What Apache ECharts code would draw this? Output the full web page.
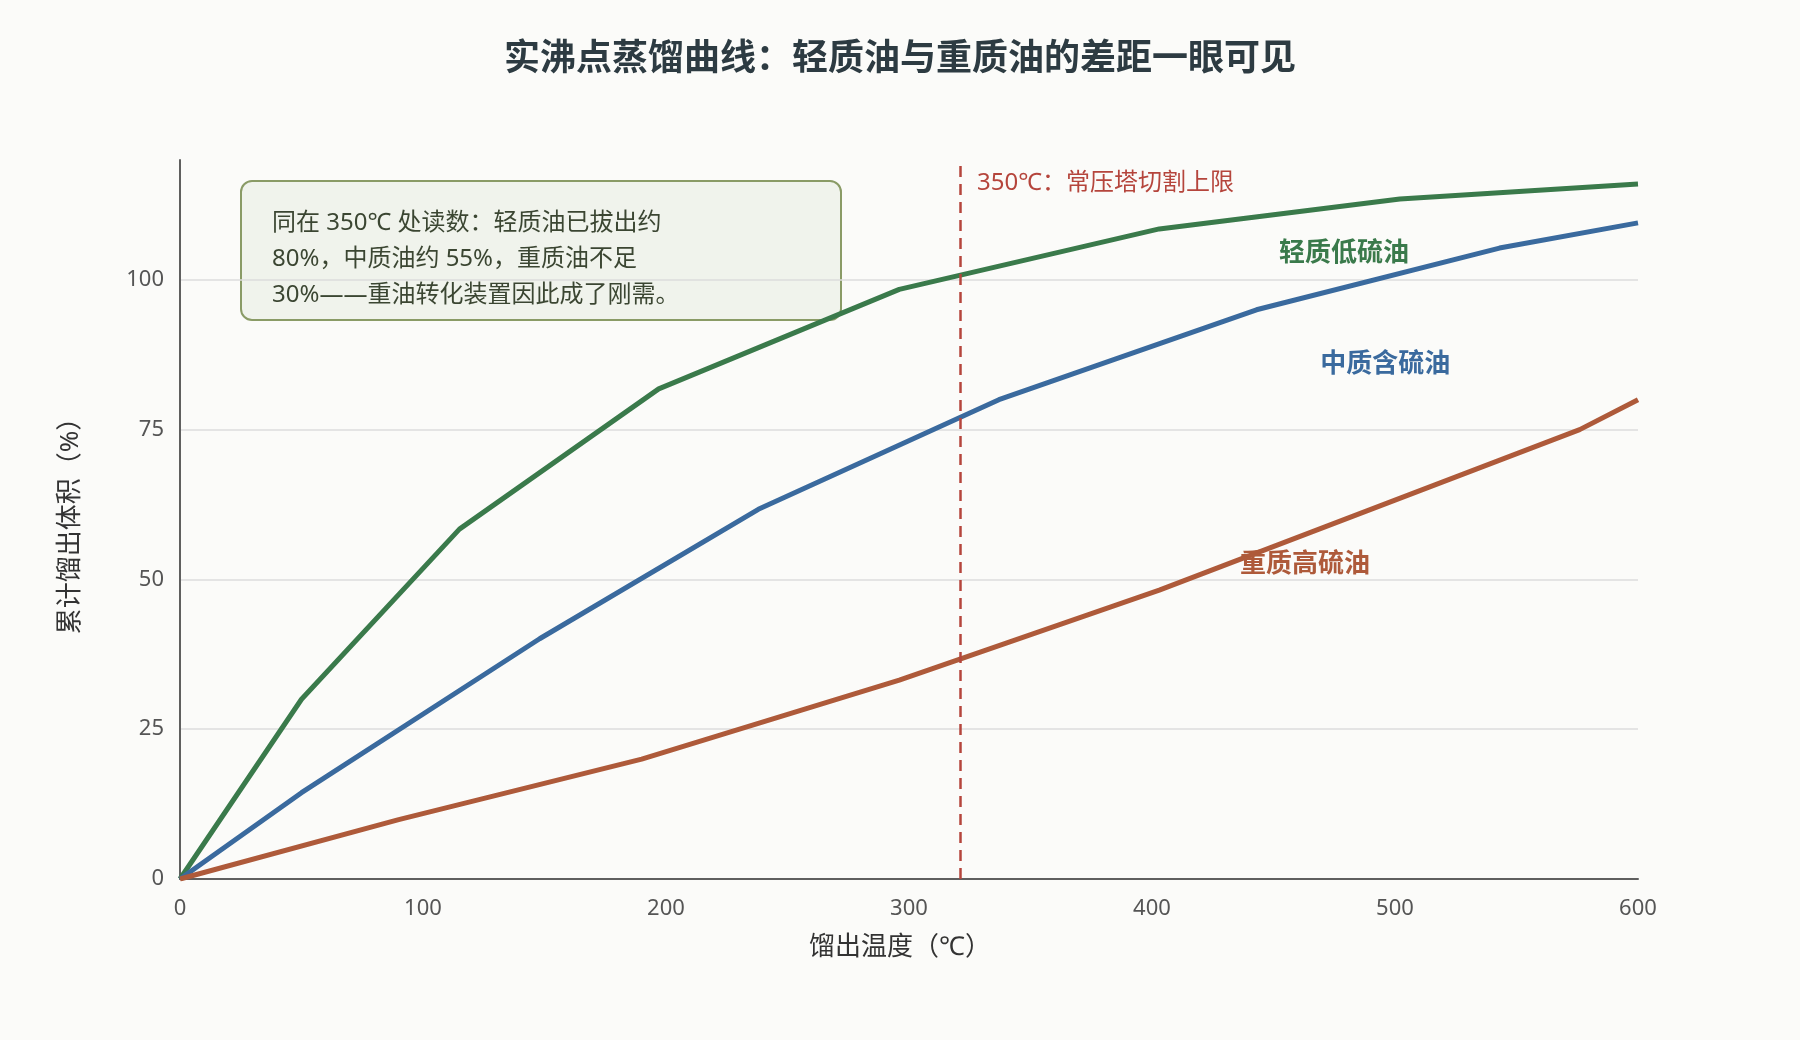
<!DOCTYPE html>
<html>
<head>
<meta charset="utf-8">
<title>实沸点蒸馏曲线</title>
<script src="https://cdn.jsdelivr.net/npm/echarts@6/dist/echarts.min.js"></script>
<style>
  html, body { margin: 0; padding: 0; background: #fbfbf9; }
  #chart { width: 1800px; height: 1040px; }
</style>
</head>
<body>
<div id="chart"></div>
<script>
// 轻质低硫油
var lightX = [0, 50, 115, 197, 296, 403, 502, 600];
var lightY = [0, 30.0, 58.4, 81.8, 98.4, 108.5, 113.5, 116.0];
// 中质含硫油
var mediumX = [0, 50, 148, 238, 337, 443, 543, 600];
var mediumY = [0, 14.4, 40.1, 61.7, 80.0, 95.0, 105.3, 109.5];
// 重质高硫油
var heavyX = [0, 90, 190, 296, 403, 576, 600];
var heavyY = [0, 9.9, 20.0, 33.2, 48.2, 75.0, 80.0];

var seriesNames = ['轻质低硫油', '中质含硫油', '重质高硫油'];
var seriesColors = ['#3a7a4b', '#3a6a9e', '#ae5a3a'];
// where each curve name is written, [temp, percent]
var nameSpots = [[479, 104.4], [496, 85.9], [463, 52.5]];

var cutTemp = 321;
var cutText = '350℃：常压塔切割上限';
var noteText = '同在 350℃ 处读数：轻质油已拔出约\n80%，中质油约 55%，重质油不足\n30%——重油转化装置因此成了刚需。';

var xRange = [0, 600, 100];
var yRange = [0, 120, 25];

var FONT = '"Noto Sans", "Noto Sans CJK SC", sans-serif';

function pairs(xs, ys) {
    return xs.map(function (x, i) { return [x, ys[i]]; });
}
var curves = [pairs(lightX, lightY), pairs(mediumX, mediumY), pairs(heavyX, heavyY)];

var series = curves.map(function (d, i) {
    return {
        name: seriesNames[i],
        type: 'line',
        data: d,
        symbol: 'none',
        lineStyle: { width: 5, color: seriesColors[i] },
        itemStyle: { color: seriesColors[i] },
        markPoint: {
            silent: true,
            symbol: 'circle',
            symbolSize: 0,
            data: [{
                coord: nameSpots[i],
                label: {
                    show: true,
                    position: 'inside',
                    formatter: seriesNames[i],
                    color: seriesColors[i],
                    fontSize: 26,
                    fontWeight: 'bold',
                    fontFamily: FONT
                }
            }]
        }
    };
});

series[0].markLine = {
    silent: true,
    symbol: ['none', 'none'],
    lineStyle: { type: [11, 7], color: '#b5453c', width: 2.5 },
    label: {
        show: true,
        position: 'end',
        formatter: cutText,
        color: '#b5453c',
        fontSize: 24,
        fontFamily: FONT,
        align: 'left',
        offset: [17, 40]
    },
    data: [{ xAxis: cutTemp }]
};

var myChart = echarts.init(document.getElementById('chart'));

option = {
    backgroundColor: '#fbfbf9',
    animation: false,
    title: {
        text: '实沸点蒸馏曲线：轻质油与重质油的差距一眼可见',
        left: 'center',
        top: 37,
        textStyle: { fontSize: 36, fontWeight: 'bold', color: '#2d3b42', fontFamily: FONT }
    },
    grid: { left: 180, right: 162, top: 160, bottom: 161 },
    xAxis: {
        type: 'value',
        min: xRange[0], max: xRange[1], interval: xRange[2],
        name: '馏出温度（℃）',
        nameLocation: 'middle',
        nameGap: 56,
        nameTextStyle: { fontSize: 26, color: '#333', fontFamily: FONT, padding: [0, 18, 0, 0] },
        axisLine: { lineStyle: { color: '#5f5f5f', width: 2 } },
        axisTick: { show: false },
        splitLine: { show: false },
        axisLabel: { fontSize: 22, color: '#555', margin: 19, fontFamily: FONT }
    },
    yAxis: {
        type: 'value',
        min: yRange[0], max: yRange[1], interval: yRange[2],
        name: '累计馏出体积（%）',
        nameLocation: 'middle',
        nameGap: 96,
        nameTextStyle: { fontSize: 26, color: '#333', fontFamily: FONT },
        axisLine: { show: true, lineStyle: { color: '#5f5f5f', width: 2 } },
        axisTick: { show: false },
        splitLine: {
            show: true,
            showMinLine: false,
            showMaxLine: false,
            lineStyle: { color: '#dcdcdc', width: 1.5 }
        },
        axisLabel: { fontSize: 22, color: '#555', margin: 16, showMaxLabel: false, fontFamily: FONT }
    },
    graphic: [{
        type: 'group',
        left: 240,
        top: 180,
        z: 100,
        children: [
            {
                type: 'rect',
                shape: { x: 0, y: 0, width: 600, height: 139, r: 11 },
                style: { fill: '#f0f3ec', stroke: '#8a9b66', lineWidth: 2 }
            },
            {
                type: 'text',
                x: 31,
                y: 24,
                style: {
                    text: noteText,
                    fontSize: 24,
                    fontFamily: FONT,
                    lineHeight: 36,
                    fill: '#3b4632'
                }
            }
        ]
    }],
    series: series
};
myChart.setOption(option);
</script>
</body>
</html>
